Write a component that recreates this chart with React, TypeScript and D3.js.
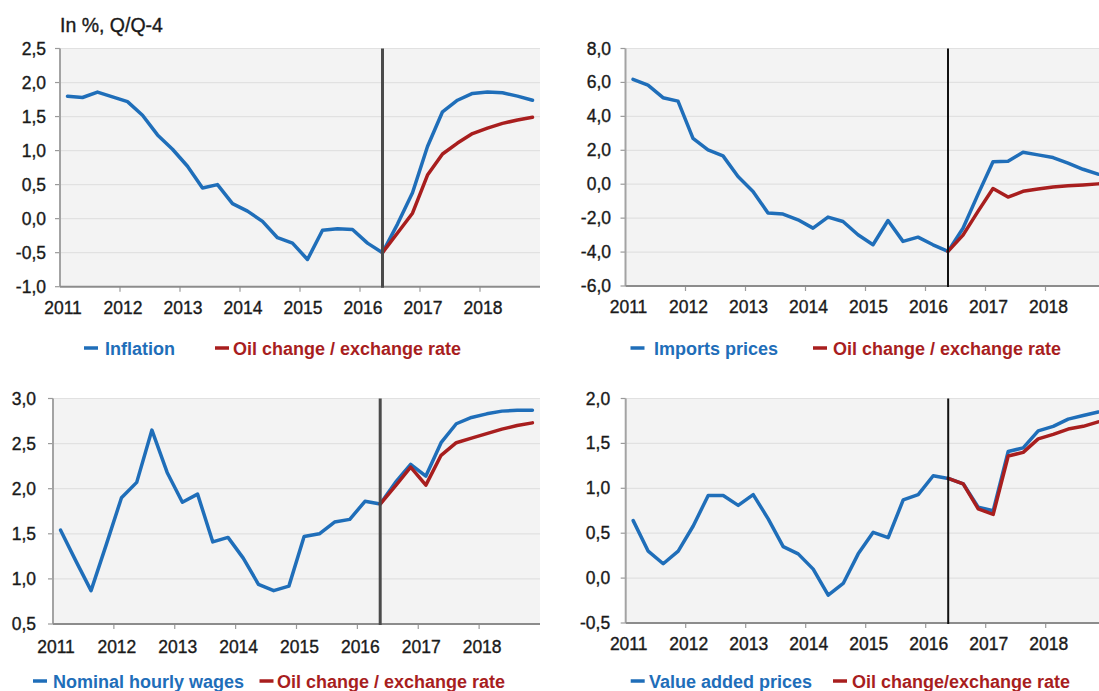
import React from "react";
import * as d3 from "d3";

// quarterly data, 2011Q1 .. 2018Q4, forecast from 2016Q2
const years = [2011, 2012, 2013, 2014, 2015, 2016, 2017, 2018];
const quarterNames = ["Q1", "Q2", "Q3", "Q4"];
const quarters = years.flatMap((y) => quarterNames.map((q) => `${y}${q}`));
const forecastStart = "2016Q2";

const inflation = [1.80, 1.78, 1.86, 1.79, 1.72, 1.52, 1.23, 1.02, 0.77, 0.45, 0.50, 0.22, 0.11, -0.04, -0.28, -0.36,
  -0.60, -0.17, -0.15, -0.16, -0.36, -0.50, -0.08, 0.38, 1.06, 1.57, 1.74, 1.84, 1.86, 1.85, 1.80, 1.74];
const inflationOil = [-0.50, -0.21, 0.08, 0.64, 0.95, 1.11, 1.25, 1.33, 1.40, 1.45, 1.49];

const imports = [6.18, 5.84, 5.1, 4.9, 2.7, 2.02, 1.67, 0.45, -0.43, -1.7, -1.76, -2.1, -2.59, -1.94, -2.2, -2.98,
  -3.57, -2.14, -3.37, -3.12, -3.57, -3.96, -2.6, -0.6, 1.33, 1.35, 1.88, 1.73, 1.57, 1.24, 0.88, 0.59];
const importsOil = [-3.96, -3.0, -1.6, -0.25, -0.76, -0.42, -0.28, -0.16, -0.09, -0.04, 0.02];

const wages = [1.54, 1.2, 0.87, 1.38, 1.9, 2.07, 2.65, 2.18, 1.85, 1.94, 1.41, 1.46, 1.23, 0.94, 0.87, 0.92,
  1.47, 1.5, 1.63, 1.66, 1.86, 1.83, 2.07, 2.27, 2.14, 2.51, 2.72, 2.79, 2.83, 2.86, 2.87, 2.87];
const wagesOil = [1.83, 2.03, 2.24, 2.04, 2.37, 2.51, 2.56, 2.61, 2.66, 2.70, 2.73];

const valueAdded = [0.64, 0.30, 0.16, 0.30, 0.58, 0.92, 0.92, 0.81, 0.93, 0.66, 0.35, 0.27, 0.10, -0.19, -0.06, 0.27,
  0.51, 0.45, 0.87, 0.93, 1.14, 1.11, 1.05, 0.79, 0.75, 1.41, 1.45, 1.64, 1.69, 1.77, 1.81, 1.85];
const valueAddedOil = [1.11, 1.05, 0.77, 0.71, 1.36, 1.40, 1.55, 1.60, 1.66, 1.69, 1.74];

const inflationTicks = [-1, -0.5, 0, 0.5, 1, 1.5, 2, 2.5];
const importsTicks = [-6, -4, -2, 0, 2, 4, 6, 8];
const wagesTicks = [0.5, 1, 1.5, 2, 2.5, 3];
const valueAddedTicks = [-0.5, 0, 0.5, 1, 1.5, 2];

const titleText = "In %, Q/Q-4";
const oilLabel = "Oil change / exchange rate";
const oilLabelShort = "Oil change/exchange rate";

const BLUE = "#1f6eb9";
const RED = "#a81e1e";
const FONT = "'Liberation Sans', Arial, sans-serif";

const qTime = (q: string) => +q.slice(0, 4) + (+q.slice(5) - 0.5) / 4;
const fmt = (v: number) => d3.format(".1f")(v).replace("\u2212", "-").replace(".", ",");

const panels = [
  { left: 60, right: 540, top: 48.5, bottom: 286.7, ticks: inflationTicks, blue: inflation, red: inflationOil,
    vColor: "#4a4a4a", vWidth: 3, labelGap: 14, xDy: 27, legendY: 355, dashY: 348,
    legend: [{ dash: 84, text: 105, label: "Inflation", color: BLUE }, { dash: 215, text: 233, label: oilLabel, color: RED }] },
  { left: 625.5, right: 1105.5, top: 48.5, bottom: 286, ticks: importsTicks, blue: imports, red: importsOil,
    vColor: "#111", vWidth: 2, labelGap: 14.5, xDy: 27, legendY: 355, dashY: 348,
    legend: [{ dash: 630.5, text: 654, label: "Imports prices", color: BLUE }, { dash: 813, text: 833, label: oilLabel, color: RED }] },
  { left: 53, right: 540, top: 398.5, bottom: 624, ticks: wagesTicks, blue: wages, red: wagesOil,
    vColor: "#4a4a4a", vWidth: 3, labelGap: 17, xDy: 29, legendY: 688, dashY: 681,
    legend: [{ dash: 33, text: 53, label: "Nominal hourly wages", color: BLUE }, { dash: 259.5, text: 277, label: oilLabel, color: RED }] },
  { left: 625.7, right: 1105.7, top: 398.5, bottom: 623, ticks: valueAddedTicks, blue: valueAdded, red: valueAddedOil,
    vColor: "#111", vWidth: 2, labelGap: 15.5, xDy: 27, legendY: 688, dashY: 681,
    legend: [{ dash: 630.7, text: 649, label: "Value added prices", color: BLUE }, { dash: 833, text: 852, label: oilLabelShort, color: RED }] },
];

function Panel({ p }: { p: any }) {
  const x = d3.scaleLinear().domain([years[0], years[years.length - 1] + 1]).range([p.left, p.right]);
  const y = d3.scaleLinear().domain([p.ticks[0], p.ticks[p.ticks.length - 1]]).range([p.bottom, p.top]);
  const line = d3.line<[number, number]>().x((d) => x(d[0])).y((d) => y(d[1]));
  const fi = quarters.indexOf(forecastStart);
  const bluePts: [number, number][] = quarters.map((q, i) => [qTime(q), p.blue[i]]);
  const redPts: [number, number][] = quarters.slice(fi).map((q, i) => [qTime(q), p.red[i]]);
  const vx = x(qTime(forecastStart));

  return (
    <g>
      <rect x={p.left} y={p.top} width={p.right - p.left} height={p.bottom - p.top} fill="#f3f3f3" />
      {p.ticks.slice(1).map((t: number) => (
        <line key={t} x1={p.left} x2={p.right} y1={y(t)} y2={y(t)} stroke="#e1e1e1" strokeWidth={1.2} />
      ))}
      {p.ticks.map((t: number) => (
        <g key={"t" + t}>
          <line x1={p.left - 5} x2={p.left} y1={y(t)} y2={y(t)} stroke="#9a9a9a" strokeWidth={1.2} />
          <text x={p.left - p.labelGap} y={y(t) + 6} textAnchor="end" fontSize={17.5} fill="#1a1a1a"
            stroke="#1a1a1a" strokeWidth={0.35}>{fmt(t)}</text>
        </g>
      ))}
      {years.map((yr) => (
        <g key={yr}>
          {yr > years[0] && (
            <line x1={x(yr)} x2={x(yr)} y1={p.bottom} y2={p.bottom + 5} stroke="#9a9a9a" strokeWidth={1.2} />
          )}
          <text x={x(yr) + 3} y={p.bottom + p.xDy} textAnchor="middle" fontSize={17.5} fill="#1a1a1a"
            stroke="#1a1a1a" strokeWidth={0.35}>{yr}</text>
        </g>
      ))}
      <line x1={p.left} x2={p.left} y1={p.top} y2={p.bottom} stroke="#a3a3a3" strokeWidth={2} />
      <line x1={p.left} x2={p.right} y1={p.bottom} y2={p.bottom} stroke="#8c8c8c" strokeWidth={2} />
      <path d={line(bluePts) || ""} fill="none" stroke={BLUE} strokeWidth={3.5} strokeLinejoin="round" strokeLinecap="round" />
      <path d={line(redPts) || ""} fill="none" stroke={RED} strokeWidth={3.5} strokeLinejoin="round" strokeLinecap="round" />
      <line x1={vx} x2={vx} y1={p.top} y2={p.bottom + 1} stroke={p.vColor} strokeWidth={p.vWidth} />
      {p.legend.map((l: any) => (
        <g key={l.label + l.dash}>
          <line x1={l.dash} x2={l.dash + 14} y1={p.dashY} y2={p.dashY} stroke={l.color} strokeWidth={3.5} />
          <text x={l.text} y={p.legendY} fontSize={18} fontWeight="bold" fill={l.color}>{l.label}</text>
        </g>
      ))}
    </g>
  );
}

export default function App() {
  return (
    <svg width={1099} height={691} style={{ position: "absolute", left: 0, top: 0, background: "#fff" }} fontFamily={FONT}>
      <rect width={1099} height={691} fill="#fff" />
      {panels.map((p, i) => <Panel key={i} p={p} />)}
      <text x={60} y={32} fontSize={19.5} fill="#1a1a1a" stroke="#1a1a1a" strokeWidth={0.35}>{titleText}</text>
    </svg>
  );
}
